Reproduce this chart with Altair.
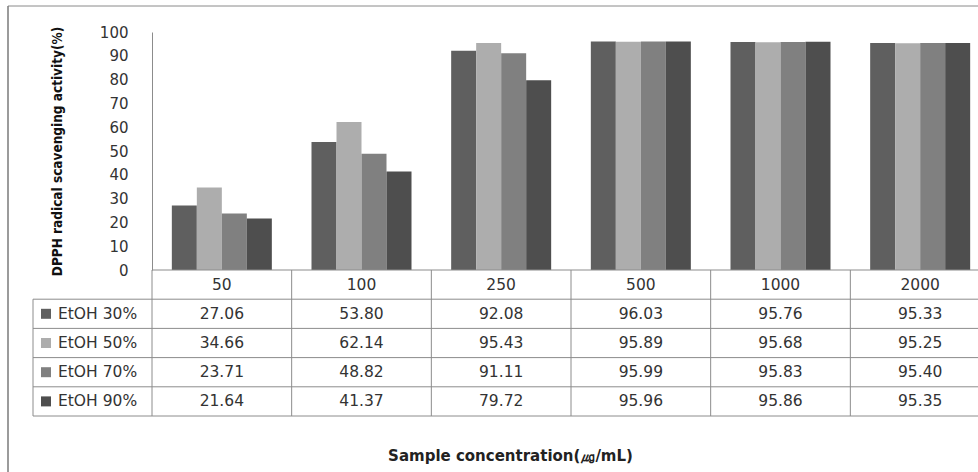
import altair as alt
import pandas as pd

# DPPH radical scavenging activity of ethanol extracts by sample concentration
categories = ["50", "100", "250", "500", "1000", "2000"]
series = ["EtOH 30%", "EtOH 50%", "EtOH 70%", "EtOH 90%"]
etoh30 = [27.06, 53.80, 92.08, 96.03, 95.76, 95.33]
etoh50 = [34.66, 62.14, 95.43, 95.89, 95.68, 95.25]
etoh70 = [23.71, 48.82, 91.11, 95.99, 95.83, 95.40]
etoh90 = [21.64, 41.37, 79.72, 95.96, 95.86, 95.35]
y_ticks = list(range(0, 101, 10))

colors = ["#5f5f5f", "#adadad", "#808080", "#4e4e4e"]
LINE = "#8c8c8c"
TEXT = "#333333"
FONT = "DejaVu Sans"

# layout, in pixels relative to the plot area
PLOT_W = 826          # visible width of the plot area
SPAN = 838            # six category cells; the last one runs past the right edge
BAR_H = 238           # bar panel height (0..100 %)
ROW_H = 29.2          # data-table row height
H = BAR_H + 5 * ROW_H # bars + header row + four series rows
LEG_X = -119          # left edge of the legend column of the table

values = [etoh30, etoh50, etoh70, etoh90]
bars_df = pd.DataFrame(
    [{"conc": c, "series": s, "value": v[i]}
     for s, v in zip(series, values) for i, c in enumerate(categories)]
)

rows = ["header"] + series
table_rows = [{"row": "header", "conc": c, "txt": c} for c in categories]
table_rows += [{"row": s, "conc": c, "txt": f"{v[i]:.2f}"}
               for s, v in zip(series, values) for i, c in enumerate(categories)]
table_df = pd.DataFrame(table_rows)

color_scale = alt.Scale(domain=series, range=colors)
table_x = alt.Scale(domain=categories, range=[0, SPAN], paddingInner=0, paddingOuter=0)
table_y = alt.Scale(domain=rows, range=[BAR_H, H], paddingInner=0, paddingOuter=0)

bars = alt.Chart(bars_df).mark_bar().encode(
    x=alt.X(
        "conc:N",
        sort=categories,
        scale=alt.Scale(domain=categories, range=[0, SPAN], paddingInner=0.284, paddingOuter=0.142),
        axis=alt.Axis(
            title="Sample concentration(㎍/mL)",
            labels=False, ticks=False, domain=False,
            titleFont=FONT, titleFontSize=15, titleFontWeight="bold", titleColor="#222222",
            titleX=358, titleY=39, titleAlign="center", titleBaseline="middle",
        ),
    ),
    xOffset=alt.XOffset("series:N", sort=series,
                        scale=alt.Scale(domain=series, paddingInner=0, paddingOuter=0)),
    y=alt.Y(
        "value:Q",
        scale=alt.Scale(domain=[0, 100], range=[BAR_H, 0], nice=False),
        axis=alt.Axis(
            values=y_ticks, ticks=False, grid=False,
            domainColor=LINE, labelPadding=24,
            labelFont=FONT, labelFontSize=15, labelColor=TEXT,
            title="DPPH radical scavenging activity(%)",
            titleFont="DejaVu Sans Condensed", titleFontSize=13.5, titleFontWeight="bold",
            titleColor="#111111", titleAngle=270, titleX=-95, titleY=119,
            titleAlign="center", titleBaseline="middle",
        ),
    ),
    color=alt.Color("series:N", scale=color_scale, legend=None),
)

# data table under the bars
cell_text = alt.Chart(table_df).mark_text(font=FONT, fontSize=15.5, color=TEXT).encode(
    x=alt.X("conc:N", scale=table_x, axis=None),
    y=alt.Y("row:N", scale=table_y, axis=None),
    text="txt:N",
)

v_lines = alt.Chart(pd.DataFrame({"conc": categories})).mark_rule(color=LINE).encode(
    x=alt.X("conc:N", scale=table_x, axis=None, bandPosition=0),
    y=alt.value(BAR_H),
    y2=alt.value(H),
)

h_lines = alt.Chart(pd.DataFrame({"row": series})).mark_rule(color=LINE).encode(
    y=alt.Y("row:N", scale=table_y, axis=None, bandPosition=0),
    x=alt.value(LEG_X),
    x2=alt.value(SPAN),
)

bottom_line = alt.Chart(pd.DataFrame({"row": ["EtOH 90%"]})).mark_rule(color=LINE).encode(
    y=alt.Y("row:N", scale=table_y, axis=None, bandPosition=1),
    x=alt.value(LEG_X),
    x2=alt.value(SPAN),
)

baseline = alt.Chart(pd.DataFrame({"row": ["header"]})).mark_rule(color=LINE).encode(
    y=alt.Y("row:N", scale=table_y, axis=None, bandPosition=0),
    x=alt.value(0),
    x2=alt.value(SPAN),
)

legend_border = alt.Chart(pd.DataFrame({"row": ["EtOH 30%"]})).mark_rule(color=LINE).encode(
    x=alt.value(LEG_X),
    y=alt.Y("row:N", scale=table_y, axis=None, bandPosition=0),
    y2=alt.value(H),
)

legend_df = pd.DataFrame({"row": series})
swatches = alt.Chart(legend_df).mark_square(size=100, opacity=1).encode(
    x=alt.value(-106),
    y=alt.Y("row:N", scale=table_y, axis=None),
    color=alt.Color("row:N", scale=color_scale, legend=None),
)
legend_text = alt.Chart(legend_df).mark_text(
    font=FONT, fontSize=15.5, color=TEXT, align="left"
).encode(
    x=alt.value(-94),
    y=alt.Y("row:N", scale=table_y, axis=None),
    text="row:N",
)

# outer chart frame (top and left edges)
frame_top = alt.Chart(pd.DataFrame({"k": [0]})).mark_rule(color="#8a8a8a").encode(
    x=alt.value(-144), x2=alt.value(PLOT_W), y=alt.value(-26)
)
frame_left = alt.Chart(pd.DataFrame({"k": [0]})).mark_rule(color="#7a7a7a", strokeWidth=1.5).encode(
    x=alt.value(-144), y=alt.value(-26), y2=alt.value(H + 60)
)

chart = (
    alt.layer(
        bars, baseline, v_lines, h_lines, bottom_line, legend_border,
        cell_text, swatches, legend_text, frame_top, frame_left,
    )
    .resolve_scale(x="independent", y="independent", color="shared")
    .properties(
        width=PLOT_W,
        height=H,
        autosize=alt.AutoSizeParams(type="none"),
        padding={"left": 152, "top": 32, "right": 0, "bottom": 472 - 32 - H},
        background="white",
    )
    .configure_view(stroke=None)
)

chart.save("out.html", embed_options={"renderer": "svg", "actions": False})
